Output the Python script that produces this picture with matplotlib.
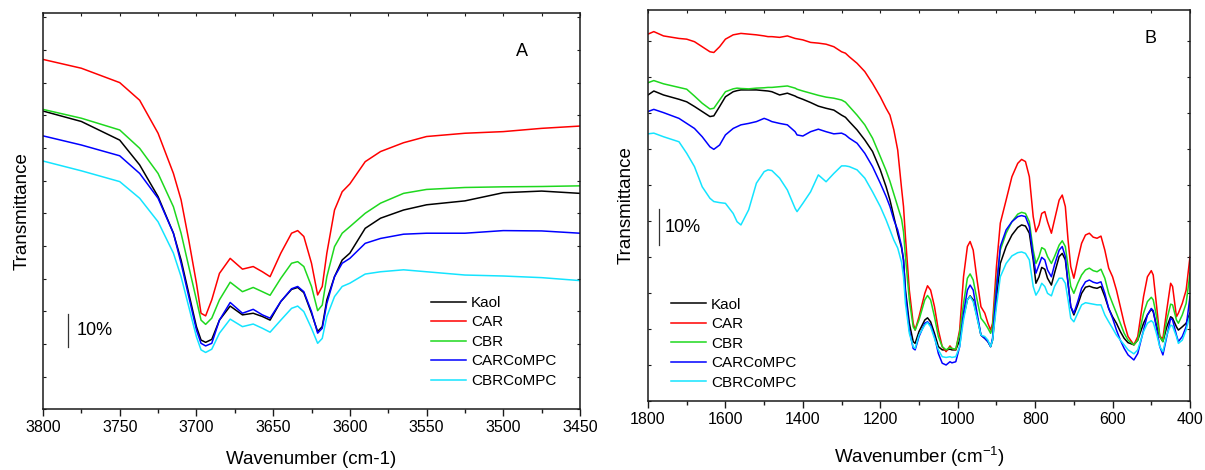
import numpy as np
import matplotlib
matplotlib.use("Agg")
import matplotlib.pyplot as plt
from matplotlib.ticker import MultipleLocator

plt.rcParams['font.family'] = ['Liberation Sans', 'DejaVu Sans']
plt.rcParams['mathtext.default'] = 'regular'

# ---------------- Panel A: OH stretching region (offset transmittance, %) ----------------
wn_a = [3800, 3775, 3750, 3737, 3725, 3715, 3710, 3705, 3700, 3697, 3694, 3690, 3685,
        3678, 3670, 3663, 3657, 3652, 3645, 3638, 3634, 3630, 3625, 3621, 3618, 3615,
        3610, 3605, 3600, 3590, 3580, 3565, 3550, 3525, 3500, 3475, 3450]

kaol_a = [91.3, 88.1, 82.4, 74.8, 65.1, 53.9, 45.7, 35.5, 25.3, 21.2, 20.5, 21.4, 27.3,
          31.6, 28.9, 29.4, 28.4, 27.3, 33.0, 36.7, 37.3, 35.7, 29.4, 23.8, 25.3, 33.5,
          40.6, 45.7, 47.8, 55.4, 58.5, 61.0, 62.6, 63.8, 66.3, 66.8, 66.1]
car_a = [107.1, 104.4, 100.0, 94.6, 84.5, 72.2, 64.1, 51.8, 38.6, 29.4, 28.6, 33.5, 41.6,
         46.2, 42.9, 43.7, 42.1, 40.6, 47.8, 53.9, 54.7, 52.9, 44.7, 35.0, 37.6, 47.8,
         61.0, 66.6, 69.0, 75.8, 78.9, 81.6, 83.5, 84.5, 85.0, 86.0, 86.7]
cbr_a = [91.8, 89.1, 85.5, 79.9, 72.2, 62.0, 53.9, 43.7, 33.5, 27.3, 26.0, 27.9, 33.5,
         38.9, 36.0, 37.3, 36.0, 34.9, 40.1, 44.7, 45.2, 43.7, 37.6, 30.2, 31.9, 40.6,
         49.8, 53.9, 55.9, 60.0, 63.1, 66.1, 67.3, 67.9, 68.1, 68.2, 68.4]
carcompc_a = [83.7, 80.9, 77.6, 72.2, 64.6, 53.9, 44.7, 34.5, 24.3, 20.2, 19.4, 20.2, 27.3,
              32.7, 29.4, 30.6, 28.9, 27.9, 33.0, 36.9, 37.6, 36.0, 29.9, 23.3, 24.8, 32.4,
              40.6, 44.7, 46.2, 50.8, 52.3, 53.6, 53.9, 53.9, 54.7, 54.6, 53.9]
cbrcompc_a = [76.0, 73.0, 69.7, 64.6, 57.4, 47.8, 40.6, 31.4, 22.2, 18.2, 17.4, 18.4, 23.3,
              27.6, 25.3, 26.1, 24.8, 23.6, 27.3, 30.9, 31.6, 29.9, 24.8, 20.2, 21.7, 28.4,
              34.5, 37.6, 38.6, 41.4, 42.1, 42.7, 42.1, 41.1, 40.8, 40.3, 39.4]

# ---------------- Panel B: 1800-400 cm-1 region (offset transmittance, %) ----------------
wn_b = [1800, 1785, 1760, 1720, 1700, 1680, 1660, 1640, 1630, 1615, 1600, 1580, 1570, 1560,
        1540, 1520, 1500, 1490, 1480, 1460, 1440, 1420, 1415, 1400, 1380, 1360, 1340, 1320,
        1300, 1290, 1280, 1260, 1240, 1220, 1200, 1185, 1175, 1165, 1155, 1145,
        1140, 1135, 1125, 1115, 1110, 1100, 1085, 1078, 1070, 1060, 1050, 1040, 1030, 1020,
        1015, 1005, 995, 985, 975, 968, 960, 950, 940, 930, 922, 915, 910, 900, 890, 875,
        860, 845, 835, 825, 815, 805, 798, 790, 783, 775, 768, 758, 750, 738, 730, 722,
        715, 708, 700, 690, 680, 670, 660, 650, 640, 630, 620, 610, 600, 590, 580, 570,
        560, 545, 535, 520, 510, 500, 495, 488, 478, 470, 460, 450, 445, 435, 430, 420,
        410, 400]

kaol_b = [85.0, 86.1, 85.0, 83.8, 83.1, 81.8, 80.4, 79.0, 79.2, 81.8, 84.5, 85.9, 86.2, 86.4,
          86.4, 86.4, 86.2, 86.1, 85.9, 85.0, 85.5, 84.7, 84.4, 83.8, 82.9, 81.9, 81.3, 80.8,
          79.4, 78.8, 77.6, 75.3, 72.5, 69.3, 64.2, 59.5, 55.8, 51.2, 46.5, 42.5,
          39.2, 30.8, 21.6, 16.5, 16.0, 19.3, 22.5, 23.1, 22.0, 18.8, 15.1, 14.2, 14.2, 14.4,
          14.2, 14.2, 16.9, 23.4, 28.1, 29.2, 28.1, 23.4, 18.3, 17.4, 16.5, 15.1, 16.9, 28.1,
          38.2, 42.9, 46.1, 48.2, 48.9, 48.6, 46.6, 39.2, 32.7, 34.5, 37.1, 36.6, 34.1, 32.2,
          35.5, 40.1, 41.0, 39.2, 32.7, 26.2, 23.9, 26.7, 29.9, 31.6, 31.9, 31.5, 31.3, 31.8,
          29.0, 25.7, 23.4, 21.6, 19.3, 17.4, 16.2, 15.6, 16.9, 21.6, 23.9, 25.5, 24.8, 21.6,
          17.9, 16.5, 20.6, 23.4, 23.0, 20.6, 19.7, 20.6, 21.6, 24.4]
car_b = [101.9, 102.6, 101.4, 100.7, 100.5, 99.8, 98.4, 97.0, 96.8, 98.4, 100.5, 101.7, 101.9,
         102.1, 101.9, 101.7, 101.4, 101.2, 101.2, 101.0, 101.4, 100.7, 100.6, 100.3, 99.6,
         99.4, 99.1, 98.4, 97.0, 96.6, 95.6, 93.8, 91.5, 88.2, 84.5, 81.3, 79.4, 75.3, 69.7,
         59.0,
         54.0, 45.6, 30.8, 21.6, 19.7, 23.4, 29.9, 32.0, 30.8, 26.2, 19.7, 15.1, 13.7, 15.3,
         14.6, 14.2, 19.7, 34.5, 42.9, 44.3, 41.9, 33.6, 26.2, 24.4, 21.6, 19.7, 21.6, 37.3,
         49.4, 55.8, 62.3, 66.0, 67.1, 66.5, 62.3, 51.2, 47.0, 48.9, 52.1, 52.6, 49.8, 46.6,
         50.3, 55.8, 57.2, 54.0, 44.7, 37.3, 34.1, 39.2, 43.8, 46.1, 46.6, 45.5, 45.2, 45.8,
         41.9, 36.9, 34.5, 30.8, 26.2, 21.6, 17.9, 15.6, 17.9, 29.0, 34.5, 36.2, 35.0, 28.1,
         17.9, 17.4, 25.3, 32.7, 31.8, 23.4, 24.4, 27.1, 30.8, 40.1]
cbr_b = [88.4, 89.0, 88.1, 87.1, 86.6, 84.7, 82.7, 81.1, 81.3, 83.6, 85.9, 86.7, 86.9, 86.8,
         86.7, 86.9, 87.0, 87.1, 87.1, 87.3, 87.5, 86.9, 86.6, 86.1, 85.5, 84.9, 84.4, 84.1,
         83.6, 83.0, 81.8, 79.4, 76.7, 73.0, 67.9, 64.0, 61.0, 57.5, 54.0, 50.5,
         47.0, 40.1, 28.1, 20.6, 19.7, 22.5, 28.1, 29.3, 28.1, 23.4, 17.9, 15.1, 14.2, 14.9,
         14.6, 14.4, 18.8, 27.1, 34.1, 35.3, 33.6, 28.1, 23.0, 21.6, 20.2, 18.8, 20.6, 32.7,
         41.9, 46.6, 49.8, 51.9, 52.4, 52.1, 49.8, 41.9, 38.2, 40.1, 42.6, 42.1, 40.1, 38.2,
         40.1, 43.3, 44.5, 42.9, 37.3, 31.8, 29.9, 32.7, 35.0, 36.4, 36.9, 36.2, 35.9, 36.6,
         34.1, 29.9, 27.1, 24.4, 21.6, 18.8, 16.9, 15.6, 16.9, 24.4, 27.6, 28.8, 28.1, 24.4,
         17.9, 16.5, 22.5, 26.9, 26.7, 22.5, 21.6, 23.9, 27.1, 35.5]
carcompc_b = [80.4, 81.0, 80.1, 78.5, 77.1, 75.7, 73.4, 70.6, 69.9, 71.1, 73.9, 75.7, 76.2,
              76.7, 77.1, 77.6, 78.5, 78.1, 77.6, 77.1, 76.7, 74.8, 73.9, 73.6, 74.8, 75.5,
              74.8, 74.2, 74.4, 73.9, 73.0, 71.6, 68.8, 65.1, 60.5, 56.8, 54.0, 50.3, 47.5,
              43.0,
              39.2, 29.9, 19.7, 14.6, 14.2, 17.9, 21.6, 22.0, 21.1, 17.9, 13.2, 10.5, 10.0, 10.9,
              10.6, 10.9, 15.1, 24.4, 30.8, 32.2, 30.8, 24.4, 18.3, 17.4, 16.5, 15.1, 17.4, 30.8,
              42.9, 47.5, 49.8, 51.2, 51.5, 51.2, 48.4, 40.1, 35.5, 37.8, 39.9, 39.2, 36.4, 34.5,
              37.8, 41.9, 42.9, 40.1, 32.7, 26.2, 24.4, 27.6, 31.3, 33.1, 33.6, 33.0, 32.7, 33.1,
              29.9, 25.7, 23.0, 19.7, 16.9, 14.6, 12.8, 11.4, 13.2, 19.7, 23.9, 25.7, 25.1, 21.1,
              15.1, 12.8, 17.9, 23.0, 22.5, 18.3, 16.5, 17.9, 20.6, 29.0]
cbrcompc_b = [74.2, 74.4, 73.4, 72.0, 68.8, 65.1, 59.5, 56.3, 55.4, 55.1, 54.9, 52.1, 49.8,
              48.9, 53.1, 60.5, 63.7, 64.2, 64.0, 61.9, 58.6, 53.5, 52.6, 54.9, 58.1, 62.8,
              60.9, 63.2, 65.3, 65.3, 65.1, 64.2, 61.9, 58.1, 54.0, 50.3, 47.5, 44.7, 42.5,
              38.5,
              34.5, 27.1, 18.8, 15.1, 14.6, 18.3, 21.1, 21.8, 20.6, 17.4, 14.2, 12.3, 12.1, 12.3,
              12.1, 12.3, 15.1, 22.5, 28.1, 29.0, 27.6, 23.0, 18.3, 17.9, 16.9, 15.1, 16.9, 26.2,
              34.5, 38.2, 40.3, 41.2, 41.4, 41.0, 39.2, 31.8, 29.4, 30.8, 32.7, 31.8, 29.9, 29.2,
              31.8, 34.1, 34.1, 32.7, 28.1, 23.0, 22.0, 24.4, 26.7, 27.3, 27.1, 26.9, 26.7, 26.7,
              23.9, 22.0, 20.2, 18.3, 16.9, 15.6, 14.2, 13.1, 14.2, 19.3, 21.6, 22.3, 21.8, 19.3,
              15.1, 13.7, 18.3, 21.1, 20.8, 17.9, 16.0, 16.9, 19.7, 23.9]

series_names = ["Kaol", "CAR", "CBR", "CARCoMPC", "CBRCoMPC"]
series_colors = ["#000000", "#ff0000", "#1ed81e", "#0000ff", "#14e4ff"]
panel_a = [kaol_a, car_a, cbr_a, carcompc_a, cbrcompc_a]
panel_b = [kaol_b, car_b, cbr_b, carcompc_b, cbrcompc_b]

SCALE_BAR = 10  # length of the vertical scale bar, % transmittance

W, H = 1205, 470
fig = plt.figure(figsize=(W / 100, H / 100), dpi=100)
axA = fig.add_axes([43 / W, (H - 409.3) / H, (580 - 43) / W, (409.3 - 12.7) / H])
axB = fig.add_axes([648 / W, (H - 401) / H, (1190 - 648) / W, (401 - 10) / H])

spine_color = "#1a1a1a"


def style_axes(ax, major, minor, ylim):
    ax.set_ylim(*ylim)
    for s in ax.spines.values():
        s.set_linewidth(1.1)
        s.set_color(spine_color)
    ax.xaxis.set_major_locator(MultipleLocator(major))
    ax.xaxis.set_minor_locator(MultipleLocator(minor))
    ax.yaxis.set_major_locator(MultipleLocator(10))
    ax.tick_params(axis='x', which='major', direction='out', length=5, width=1.0,
                   pad=3, labelsize=11.5, color=spine_color)
    ax.tick_params(axis='x', which='minor', direction='out', length=3, width=1.0,
                   color=spine_color)
    ax.tick_params(axis='y', which='major', direction='in', length=2.5, width=0.8,
                   labelleft=False, color=spine_color)
    top = ax.secondary_xaxis('top')
    top.xaxis.set_major_locator(MultipleLocator(major))
    top.xaxis.set_minor_locator(MultipleLocator(minor))
    top.tick_params(which='both', direction='in', length=2.5, width=0.8,
                    labeltop=False, color=spine_color)
    top.spines['top'].set_visible(False)
    right = ax.secondary_yaxis('right')
    right.yaxis.set_major_locator(MultipleLocator(10))
    right.tick_params(which='both', direction='in', length=2.5, width=0.8,
                      labelright=False, color=spine_color)
    right.spines['right'].set_visible(False)


legend_kw = dict(loc='upper left', frameon=False, fontsize=11, handlelength=2.3,
                 handletextpad=0.33, labelspacing=0.36, borderpad=0, borderaxespad=0)

# Panel A
for vals, name, col in zip(panel_a, series_names, series_colors):
    axA.plot(wn_a, vals, color=col, lw=1.1, label=name)
axA.set_xlim(3800, 3450)
style_axes(axA, 50, 25, (0, 121.4))
axA.set_xlabel("Wavenumber (cm-1)", fontsize=13.5)
axA.set_ylabel("Transmittance", fontsize=13.5)
axA.xaxis.set_label_coords(0.5, -0.105)
axA.yaxis.set_label_coords(-0.023, 0.5)
axA.text(3488, 109.5, "A", fontsize=13, ha='center', va='center')
axA.plot([3784, 3784], [19.2, 19.2 + SCALE_BAR], color='#333333', lw=0.9)
axA.text(3778, 24.2, "10%", fontsize=13, ha='left', va='center')
axA.legend(bbox_to_anchor=(0.7225, 0.286), **legend_kw)

# Panel B
for vals, name, col in zip(panel_b, series_names, series_colors):
    axB.plot(wn_b, vals, color=col, lw=1.1, label=name)
axB.set_xlim(1800, 400)
style_axes(axB, 200, 100, (0, 108.6))
axB.set_xlabel(r"Wavenumber (cm$^{-1}$)", fontsize=13.5)
axB.set_ylabel("Transmittance", fontsize=13.5)
axB.xaxis.set_label_coords(0.5, -0.1125)
axB.yaxis.set_label_coords(-0.024, 0.5)
axB.text(503, 100.8, "B", fontsize=13, ha='center', va='center')
axB.plot([1772, 1772], [43.3, 43.3 + SCALE_BAR], color='#333333', lw=0.9)
axB.text(1757, 48.3, "10%", fontsize=13, ha='left', va='center')
axB.legend(bbox_to_anchor=(0.0424, 0.264), **legend_kw)

fig.savefig("out.png", dpi=100)
